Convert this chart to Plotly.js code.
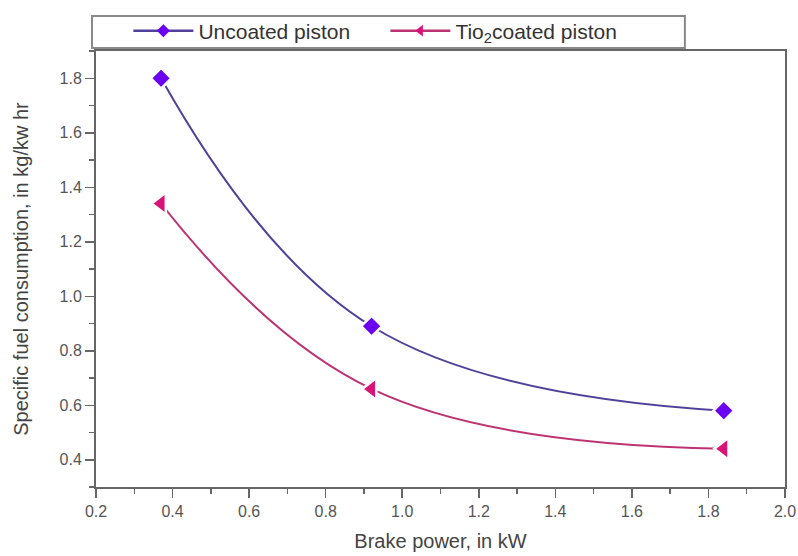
<!DOCTYPE html>
<html>
<head>
<meta charset="utf-8">
<script src="https://cdn.plot.ly/plotly-3.0.1.min.js"></script>
<style>html,body{margin:0;padding:0;background:#fff;}#chart{width:798px;height:556px;}</style>
</head>
<body>
<div id="chart"></div>
<script>
const brakePower = [0.37, 0.92, 1.84];
const uncoated = [1.80, 0.89, 0.58];
const tioCoated = [1.34, 0.66, 0.44];
const seriesNames = ["Uncoated piston", "Tio<sub>2</sub>coated piston"];

const FONT = 'Liberation Sans, Arial, sans-serif';
const styles = [
  {line: '#51409a', marker: '#6c00f0', symbol: 'diamond', size: 16},
  {line: '#bd3372', marker: '#d81478', symbol: 'triangle-left', size: 19}
];
const seriesValues = [uncoated, tioCoated];

const traces = [];
seriesValues.forEach((vals, i) => {
  traces.push({
    x: brakePower, y: vals, name: seriesNames[i], type: 'scatter', mode: 'lines+markers',
    showlegend: false,
    line: {color: styles[i].line, width: 2, shape: 'spline', smoothing: 1.2},
    marker: {symbol: styles[i].symbol, size: styles[i].size, color: styles[i].marker, line: {color: '#ffffff', width: 2.5}}
  });
});
// legend-only entries (smaller symbols, like the reference legend)
seriesValues.forEach((vals, i) => {
  traces.push({
    x: [null], y: [null], name: seriesNames[i], type: 'scatter', mode: 'lines+markers',
    showlegend: true, hoverinfo: 'skip',
    line: {color: styles[i].line, width: 2.5},
    marker: {symbol: styles[i].symbol, size: 10, color: styles[i].marker}
  });
});

const axisCommon = {
  showgrid: false, zeroline: false, showline: true, linecolor: '#666', linewidth: 2,
  mirror: true, ticks: 'outside', ticklen: 9, tickwidth: 1.5, tickcolor: '#666',
  tickfont: {family: FONT, size: 16, color: '#555'}
};

const layout = {
  width: 798, height: 556,
  margin: {l: 96, r: 13, t: 50, b: 69},
  paper_bgcolor: '#fff', plot_bgcolor: '#fff',
  font: {family: FONT, color: '#444'},
  xaxis: Object.assign({}, axisCommon, {
    range: [0.2, 2.0], dtick: 0.2, tick0: 0.2, tickformat: '.1f',
    minor: {ticks: 'outside', dtick: 0.1, ticklen: 5, tickcolor: '#666', tickwidth: 1.5},
    title: {text: 'Brake power, in kW', font: {family: FONT, size: 20, color: '#444'}, standoff: 15}
  }),
  yaxis: Object.assign({}, axisCommon, {
    range: [0.3, 1.9], dtick: 0.2, tick0: 0.4, tickformat: '.1f',
    minor: {ticks: 'outside', dtick: 0.1, ticklen: 5, tickcolor: '#666', tickwidth: 1.5},
    title: {text: 'Specific fuel consumption, in kg/kw hr', font: {family: FONT, size: 20, color: '#444'}, standoff: 26}
  }),
  legend: {
    orientation: 'h', x: 0.047, y: 1.0435, xanchor: 'left', yanchor: 'middle',
    bgcolor: 'rgba(0,0,0,0)', borderwidth: 0,
    font: {family: FONT, size: 21, color: '#333'}, itemwidth: 60,
    entrywidth: 182, entrywidthmode: 'pixels'
  },
  shapes: [
    {type: 'rect', xref: 'paper', yref: 'paper', x0: -0.0058, x1: 0.8547, y0: 1.0069, y1: 1.0801,
     line: {color: '#888', width: 2}, fillcolor: 'rgba(0,0,0,0)', layer: 'above'}
  ],
  showlegend: true
};

Plotly.newPlot('chart', traces, layout, {displayModeBar: false, staticPlot: true});
</script>
</body>
</html>
